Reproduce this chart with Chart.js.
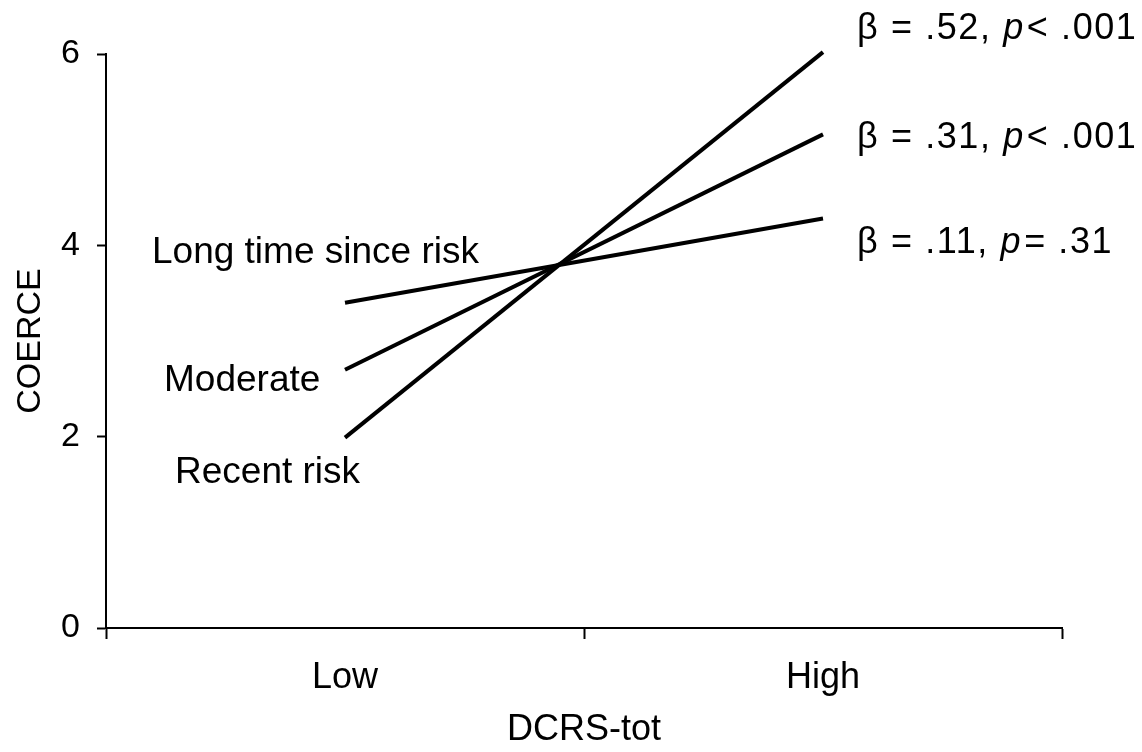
<!DOCTYPE html>
<html>
<head>
<meta charset="utf-8">
<script src="https://cdn.jsdelivr.net/npm/chart.js@4.4.1/dist/chart.umd.min.js"></script>
<style>
  html, body { margin: 0; padding: 0; background: #fff; }
  #wrap { width: 1142px; height: 752px; }
</style>
</head>
<body>
<div id="wrap"><canvas id="myChart" width="1142" height="752"></canvas></div>
<script>
'use strict';
// categories on the x axis
let levels = ['Low', 'High'];
// simple slopes of COERCE at each DCRS-tot level
let longTimeValues = [3.40, 4.28];
let moderateValues = [2.70, 5.16];
let recentValues = [1.99, 6.02];
let yTicks = [0, 2, 4, 6];
// group names drawn at the left end, stats drawn at the right end
let groupNames = ['Long time since risk', 'Moderate', 'Recent risk'];
let betaTexts = ['.11', '.31', '.52'];
let pTexts = ['= .31', '< .001', '< .001'];

let sans = '"Liberation Sans", Arial, sans-serif';

function lineSet(values) {
  return {
    data: values,
    borderColor: '#000',
    borderWidth: 4,
    pointRadius: 0,
    fill: false,
    tension: 0,
    clip: false
  };
}

// writes the group names and beta / p values next to the lines
let labelPlugin = {
  id: 'lineLabels',
  afterDraw(chart) {
    let ctx = chart.ctx;
    let x = chart.scales.x;
    let y = chart.scales.y;
    let lowX = x.getPixelForValue(0);
    let highX = x.getPixelForValue(1);
    ctx.save();
    ctx.fillStyle = '#000';
    ctx.textBaseline = 'alphabetic';
    ctx.textAlign = 'left';
    ctx.font = '37px ' + sans;
    // left side names
    ctx.fillText(groupNames[0], lowX - 193, y.getPixelForValue(longTimeValues[0]) - 40);
    ctx.fillText(groupNames[1], lowX - 181, y.getPixelForValue(moderateValues[0]) + 21);
    ctx.fillText(groupNames[2], lowX - 170, y.getPixelForValue(recentValues[0]) + 45);

    // right side stats, a little spaced out
    ctx.letterSpacing = '1.6px';
    let rows = [
      [betaTexts[2], pTexts[2], y.getPixelForValue(recentValues[1]) - 13],
      [betaTexts[1], pTexts[1], y.getPixelForValue(moderateValues[1]) + 14],
      [betaTexts[0], pTexts[0], y.getPixelForValue(longTimeValues[1]) + 34]
    ];
    rows.forEach(function (r) {
      let cx = highX + 34;
      ctx.font = '36px ' + sans;
      let first = '\u03B2 = ' + r[0] + ', ';
      ctx.fillText(first, cx, r[2]);
      cx += ctx.measureText(first).width;
      ctx.font = 'italic 36px ' + sans;
      ctx.fillText('p', cx, r[2]);
      cx += ctx.measureText('p').width + 2;
      ctx.font = '36px ' + sans;
      ctx.fillText(r[1], cx, r[2]);
    });
    ctx.restore();
  }
};

let ctx = document.getElementById('myChart').getContext('2d');
let chart = new Chart(ctx, {
  type: 'line',
  data: {
    labels: levels,
    datasets: [lineSet(longTimeValues), lineSet(moderateValues), lineSet(recentValues)]
  },
  options: {
    responsive: false,
    animation: false,
    events: [],
    layout: { padding: { top: 54, right: 80, left: 0, bottom: 0 } },
    plugins: {
      legend: { display: false },
      tooltip: { enabled: false }
    },
    scales: {
      x: {
        type: 'category',
        offset: true,
        grid: {
          offset: true,
          drawOnChartArea: false,
          drawTicks: true,
          tickLength: 11,
          tickWidth: 2,
          tickColor: '#000'
        },
        border: { display: true, color: '#000', width: 2 },
        ticks: {
          color: '#000',
          padding: 17,
          font: { family: sans, size: 36 }
        },
        title: {
          display: true,
          text: 'DCRS-tot',
          color: '#000',
          font: { family: sans, size: 36 },
          padding: { top: 0, bottom: 0 }
        },
        afterFit: function (scale) { scale.height = 124; }
      },
      y: {
        min: 0,
        max: 6,
        afterBuildTicks: function (scale) {
          scale.ticks = yTicks.map(function (v) { return { value: v }; });
        },
        grid: {
          drawOnChartArea: false,
          drawTicks: true,
          tickLength: 9,
          tickWidth: 2,
          tickColor: '#000'
        },
        border: { display: true, color: '#000', width: 2 },
        ticks: {
          color: '#000',
          padding: 17,
          font: { family: sans, size: 34 }
        },
        title: {
          display: true,
          text: 'COERCE',
          color: '#000',
          font: { family: sans, size: 34 },
          padding: { top: 10, bottom: 0 }
        },
        afterFit: function (scale) { scale.width = 106; }
      }
    }
  },
  plugins: [labelPlugin]
});
</script>
</body>
</html>
